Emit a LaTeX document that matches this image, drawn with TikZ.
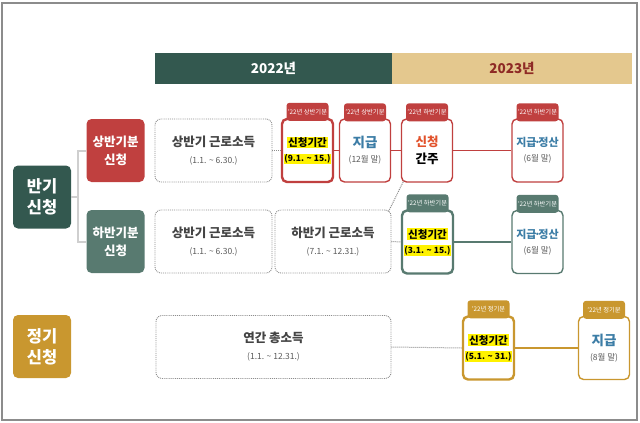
\documentclass[tikz,border=0pt]{standalone}
\usepackage{fontspec}
\setmainfont{Noto Sans CJK KR}
\usepackage{tikz}
\usetikzlibrary{calc, positioning}

\definecolor{bandgreen}{HTML}{33584F}
\definecolor{halfgreen}{HTML}{587A70}
\definecolor{halfred}{HTML}{C0403F}
\definecolor{goldc}{HTML}{C9972F}
\definecolor{tanc}{HTML}{E4C88E}
\definecolor{yeardred}{HTML}{8E2A25}
\definecolor{stepblue}{HTML}{3C7DA6}
\definecolor{applyorange}{HTML}{E2522B}
\definecolor{dategray}{HTML}{5A5A5A}
\definecolor{inctext}{HTML}{444444}
\definecolor{dotgray}{HTML}{8C8C8C}
\definecolor{forkgray}{HTML}{CFCFCF}
\definecolor{hlyellow}{HTML}{FFF200}

\newcommand{\hlite}[1]{{\setlength{\fboxsep}{0.8pt}\colorbox{hlyellow}{#1}}}
\newcommand{\datefont}{\fontsize{8.5}{10}\selectfont\mdseries}
\newcommand{\mdot}{\kern-0.22em·\kern-0.22em}

\tikzset{
  yearbar/.style={minimum width=#1, minimum height=31pt, inner sep=0pt,
    font=\fontsize{13.5}{15}\selectfont\bfseries},
  catbox/.style={fill=#1, rounded corners=5pt, minimum width=58pt, minimum height=63pt,
    inner sep=0pt, text=white, align=center, font=\fontsize{16.5}{21}\selectfont\bfseries},
  incbox/.style={draw=dotgray, densely dotted, line width=0.9pt, rounded corners=6pt,
    minimum width=#1, minimum height=63pt, inner sep=0pt, align=center, text=inctext,
    font=\fontsize{12.5}{17}\selectfont\bfseries},
  stepbox/.style={draw=#1, fill=white, rounded corners=5pt, line width=1.4pt,
    minimum width=51pt, minimum height=63pt, inner sep=0pt, align=center,
    font=\fontsize{10.5}{15}\selectfont\bfseries},
  tagbox/.style={fill=#1, rounded corners=3pt, minimum width=42pt, minimum height=18pt,
    inner sep=0.5pt, text=white, font=\fontsize{6.3}{7}\selectfont},
  dotline/.style={draw=dotgray, densely dotted, line width=1pt},
  stepline/.style={draw=#1, line width=1.8pt}
}

\begin{document}
\begin{tikzpicture}[x=1pt, y=-1pt]
  \useasboundingbox (0,0) rectangle (640,423);
  \draw[dotgray, line width=1.2pt] (2,3) rectangle (637,420);

  % years
  \node[yearbar=237pt, fill=bandgreen, text=white] (y22) at (273.5,68.5) {2022년};
  \node[yearbar=240pt, fill=tanc, text=yeardred] (y23) at (512,68.5) {2023년};

  % kinds of application
  \node[catbox=bandgreen] (ban) at (42,197) {반기\\신청};
  \node[catbox=halfred, font=\fontsize{12.5}{18}\selectfont\bfseries] (sang) at (115.5,150.5) {상반기분\\신청};
  \node[catbox=halfgreen, font=\fontsize{12.5}{18}\selectfont\bfseries] (ha) at (115.5,241.5) {하반기분\\신청};
  \node[catbox=goldc] (jeong) at (42,346.5) {정기\\신청};
  \coordinate (fork) at (78,197);
  \draw[forkgray, line width=2pt] (ban.east) -- (fork) (fork) |- (sang.west) (fork) |- (ha.west);

  % income periods
  \node[incbox=117pt] (i1) at (213.5,150.5) {상반기 근로소득\\{\datefont\color{dategray}(1.1. \textasciitilde{} 6.30.)}};
  \node[incbox=117pt] (i2) at (213.5,241.5) {상반기 근로소득\\{\datefont\color{dategray}(1.1. \textasciitilde{} 6.30.)}};
  \node[incbox=116pt] (i3) at (333,241.5) {하반기 근로소득\\{\datefont\color{dategray}(7.1. \textasciitilde{} 12.31.)}};
  \node[incbox=235pt] (i4) at (273.5,347) {연간 총소득\\{\datefont\color{dategray}(1.1. \textasciitilde{} 12.31.)}};

  % steps
  \node[stepbox=halfred, line width=2.4pt] (a1) at (307.5,150.5) {\hlite{신청기간}\\\hlite{\fontsize{8.5}{10}\selectfont (9.1. \textasciitilde{} 15.)}};
  \node[stepbox=halfred] (a2) at (365,150.5) {{\fontsize{13.5}{15}\selectfont\color{stepblue}지급}\\{\datefont\color{dategray}(12월 말)}};
  \node[stepbox=halfred, font=\fontsize{12.5}{17}\selectfont\bfseries] (a3) at (427,150.5) {{\color{applyorange}신청}\\간주};
  \node[stepbox=halfred] (a4) at (537.5,150.5) {{\fontsize{11}{15}\selectfont\color{stepblue}지급\mdot 정산}\\{\datefont\color{dategray}(6월 말)}};
  \node[stepbox=halfgreen, line width=2.4pt] (b1) at (427.5,242) {\hlite{신청기간}\\\hlite{\fontsize{8.5}{10}\selectfont (3.1. \textasciitilde{} 15.)}};
  \node[stepbox=halfgreen] (b2) at (537.5,242) {{\fontsize{11}{15}\selectfont\color{stepblue}지급\mdot 정산}\\{\datefont\color{dategray}(6월 말)}};
  \node[stepbox=goldc, line width=2.4pt] (c1) at (488.5,348) {\hlite{신청기간}\\\hlite{\fontsize{8.5}{10}\selectfont (5.1. \textasciitilde{} 31.)}};
  \node[stepbox=goldc] (c2) at (604,348) {{\fontsize{13.5}{15}\selectfont\color{stepblue}지급}\\{\datefont\color{dategray}(8월 말)}};

  \foreach \b/\c/\t in {a1/halfred/상반기분, a2/halfred/상반기분, a3/halfred/하반기분, a4/halfred/하반기분,
                        b1/halfgreen/하반기분, b2/halfgreen/하반기분, c1/goldc/정기분, c2/goldc/정기분}{
    \node[tagbox=\c] (tag-\b) at ([yshift=6pt]\b.north) {’22년 \t};
  }

  % connectors
  \draw[dotline] (i1.east) -- (a1.west);
  \draw[stepline=halfred] (a1) -- (a2);
  \draw[stepline=halfred] (a2) -- (a3);
  \draw[stepline=halfred] (a3) -- (a4);
  \draw[dotline] ([xshift=-3pt, yshift=-2pt]i3.north east) -- ([xshift=3pt, yshift=2pt]a3.south west);
  \draw[dotline] (i3.east) -- (b1.west);
  \draw[stepline=halfgreen] (b1) -- (b2);
  \draw[dotline] (i4.east) -- (c1.west);
  \draw[stepline=goldc] (c1) -- (c2);
\end{tikzpicture}
\end{document}
